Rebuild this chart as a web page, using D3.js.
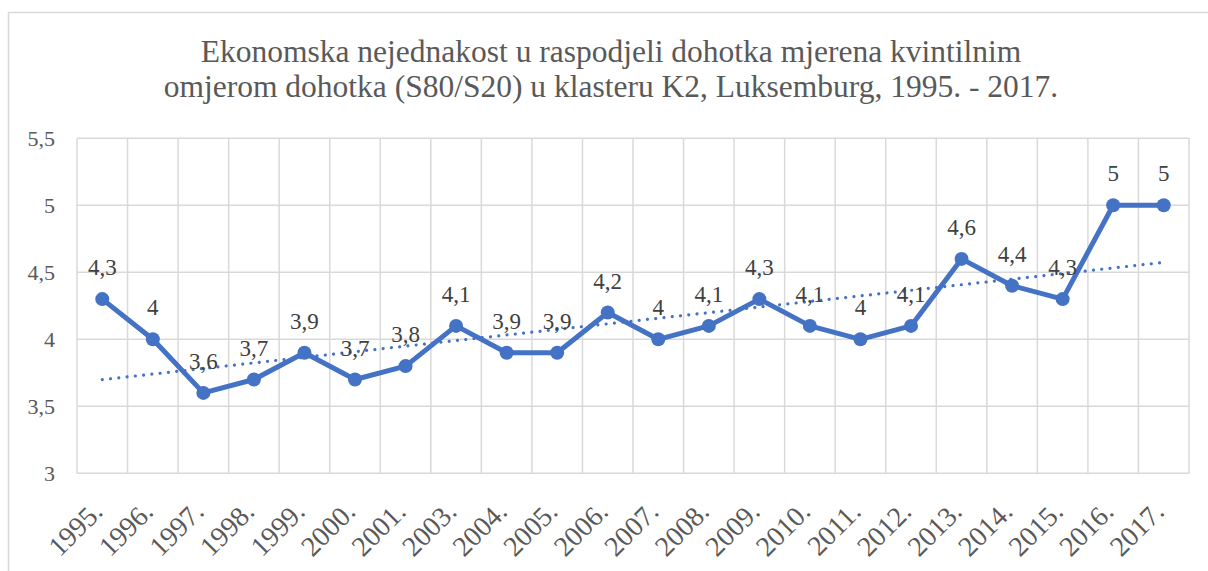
<!DOCTYPE html>
<html>
<head>
<meta charset="utf-8">
<script src="https://cdn.jsdelivr.net/npm/d3@7"></script>
<style>
  html, body { margin: 0; padding: 0; background: #fff; }
  svg { display: block; }
  svg text { font-family: "Liberation Serif", "DejaVu Serif", "Times New Roman", Times, serif; }
</style>
</head>
<body>
<svg id="chart" width="1208" height="571"></svg>
<script>
// Godine (2002. nedostaje u nizu)
const years = ["1995.", "1996.", "1997.", "1998.", "1999.", "2000.", "2001.", "2003.",
  "2004.", "2005.", "2006.", "2007.", "2008.", "2009.", "2010.", "2011.", "2012.",
  "2013.", "2014.", "2015.", "2016.", "2017."];
// Kvintilni omjer dohotka S80/S20
const ratio = [4.3, 4, 3.6, 3.7, 3.9, 3.7, 3.8, 4.1, 3.9, 3.9, 4.2, 4, 4.1, 4.3,
  4.1, 4, 4.1, 4.6, 4.4, 4.3, 5, 5];
const yTicks = [3, 3.5, 4, 4.5, 5, 5.5];
const titleLines = [
  "Ekonomska nejednakost u raspodjeli dohotka mjerena kvintilnim",
  "omjerom dohotka (S80/S20) u klasteru K2, Luksemburg, 1995. - 2017."
];

const svg = d3.select("#chart");
const W = 1208, H = 571;
const plot = { left: 77, right: 1189, top: 138.3, bottom: 473.3 };
const blue = "#4472C4";
const fmt = v => String(v).replace(".", ",");

// Okvir grafikona
svg.append("rect")
  .attr("x", 8.5).attr("y", 12.5)
  .attr("width", W + 20).attr("height", H + 20)
  .attr("fill", "#fff").attr("stroke", "#d9d9d9").attr("stroke-width", 1.5);

// Naslov
svg.append("text")
  .attr("x", 611).attr("y", 62)
  .attr("text-anchor", "middle")
  .attr("font-size", 31.5).attr("fill", "#595959")
  .selectAll("tspan").data(titleLines).join("tspan")
  .attr("x", 611).attr("dy", (d, i) => i === 0 ? 0 : 35)
  .text(d => d);

const x = d3.scaleBand().domain(years).range([plot.left, plot.right]).padding(0);
const y = d3.scaleLinear().domain([3, 5.5]).range([plot.bottom, plot.top]);
const cx = d => x(d) + x.bandwidth() / 2;

// Mreža
const grid = svg.append("g").attr("stroke", "#d9d9d9").attr("stroke-width", 1.5);
grid.selectAll("line.h").data(yTicks).join("line").attr("class", "h")
  .attr("x1", plot.left).attr("x2", plot.right)
  .attr("y1", d => y(d)).attr("y2", d => y(d));
const vEdges = years.map(d => x(d)).concat([plot.right]);
grid.selectAll("line.v").data(vEdges).join("line").attr("class", "v")
  .attr("x1", d => d).attr("x2", d => d)
  .attr("y1", plot.top).attr("y2", plot.bottom);

// Os Y
const yAxis = svg.append("g")
  .attr("transform", `translate(${plot.left},0)`)
  .call(d3.axisLeft(y).tickValues(yTicks).tickSize(0).tickPadding(22).tickFormat(fmt));
yAxis.select(".domain").remove();
yAxis.attr("font-family", null);
yAxis.selectAll("text")
  .attr("font-size", 22).attr("fill", "#595959");

// Os X (oznake pod kutom od 45°)
const xAxis = svg.append("g")
  .attr("transform", `translate(0,${plot.bottom})`)
  .call(d3.axisBottom(x).tickSize(0).tickPadding(0));
xAxis.select(".domain").remove();
xAxis.attr("font-family", null);
xAxis.selectAll("text")
  .attr("font-size", 28).attr("fill", "#595959")
  .attr("text-anchor", "end")
  .attr("dy", null).attr("y", 0)
  .attr("transform", "translate(2,40) rotate(-45)");

// Linija trenda (linearna regresija)
const n = ratio.length;
const xs = d3.range(n);
const mx = d3.mean(xs), my = d3.mean(ratio);
const slope = d3.sum(xs, i => (i - mx) * (ratio[i] - my)) / d3.sum(xs, i => (i - mx) ** 2);
const icpt = my - slope * mx;
svg.append("line")
  .attr("x1", cx(years[0])).attr("y1", y(icpt))
  .attr("x2", cx(years[n - 1])).attr("y2", y(icpt + slope * (n - 1)))
  .attr("stroke", blue).attr("stroke-width", 3.2)
  .attr("stroke-linecap", "round").attr("stroke-dasharray", "0.01 8.3");

// Niz podataka
const data = years.map((d, i) => ({ year: d, v: ratio[i] }));
svg.append("path").datum(data)
  .attr("fill", "none").attr("stroke", blue).attr("stroke-width", 5)
  .attr("stroke-linejoin", "round")
  .attr("d", d3.line().x(d => cx(d.year)).y(d => y(d.v)));
svg.append("g").selectAll("circle").data(data).join("circle")
  .attr("cx", d => cx(d.year)).attr("cy", d => y(d.v)).attr("r", 7)
  .attr("fill", blue);

// Oznake vrijednosti
svg.append("g").selectAll("text").data(data).join("text")
  .attr("x", d => cx(d.year)).attr("y", d => y(d.v) - 24)
  .attr("text-anchor", "middle")
  .attr("font-size", 23).attr("fill", "#404040")
  .text(d => fmt(d.v));
</script>
</body>
</html>
